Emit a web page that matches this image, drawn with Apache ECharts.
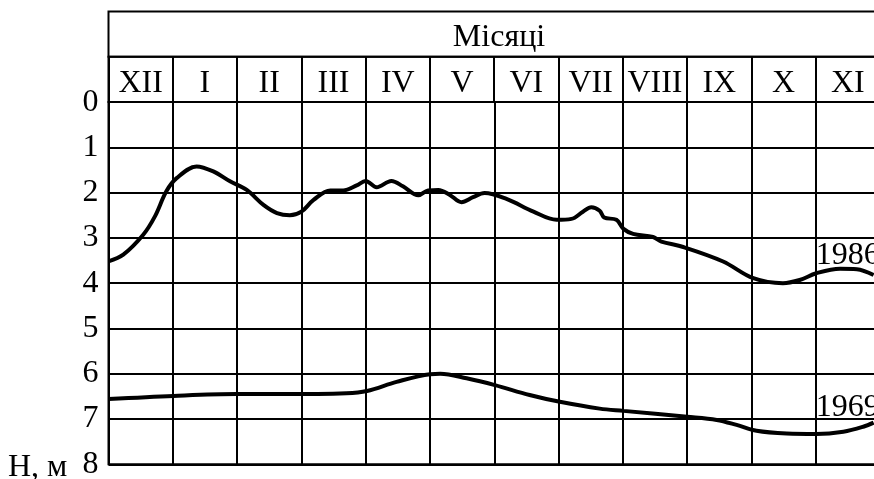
<!DOCTYPE html>
<html>
<head>
<meta charset="utf-8">
<script src="https://cdn.jsdelivr.net/npm/echarts@6/dist/echarts.min.js"></script>
<style>
  html, body { margin: 0; padding: 0; background: #fff; }
  #chart { width: 874px; height: 479px; }
</style>
</head>
<body>
<div id="chart"></div>
<script>
// Month columns, December through November
const months = ['XII', 'I', 'II', 'III', 'IV', 'V', 'VI', 'VII', 'VIII', 'IX', 'X', 'XI'];
const depthTicks = [0, 1, 2, 3, 4, 5, 6, 7, 8];

// Groundwater depth H (m); x is position in months from the start of December
const level1986 = [
  [0.00, 3.52], [0.23, 3.37], [0.54, 2.93], [0.72, 2.53], [0.90, 1.97],
  [1.06, 1.68], [1.37, 1.42], [1.63, 1.53], [1.89, 1.75], [2.15, 1.94],
  [2.41, 2.27], [2.62, 2.45], [2.82, 2.50], [3.00, 2.42], [3.19, 2.16],
  [3.45, 1.95], [3.65, 1.95], [3.86, 1.84], [4.00, 1.74], [4.17, 1.88],
  [4.40, 1.74], [4.58, 1.86], [4.82, 2.06], [4.97, 1.95], [5.13, 1.94],
  [5.31, 2.05], [5.49, 2.21], [5.67, 2.10], [5.85, 2.01], [6.19, 2.14],
  [6.61, 2.42], [6.97, 2.60], [7.20, 2.58], [7.38, 2.42], [7.51, 2.32],
  [7.64, 2.40], [7.71, 2.55], [7.90, 2.60], [8.01, 2.80], [8.16, 2.91],
  [8.47, 2.98], [8.60, 3.08], [8.94, 3.20], [9.56, 3.52], [10.03, 3.89],
  [10.49, 4.00], [10.75, 3.93], [11.01, 3.78], [11.38, 3.68], [11.64, 3.69],
  [11.90, 3.82]
];
const level1969 = [
  [0.00, 6.56], [1.01, 6.49], [1.99, 6.45], [2.67, 6.45], [3.70, 6.43],
  [4.02, 6.38], [4.48, 6.18], [5.00, 6.01], [5.16, 6.00], [5.57, 6.10],
  [6.01, 6.25], [6.55, 6.47], [7.02, 6.62], [7.64, 6.77], [8.01, 6.82],
  [9.00, 6.95], [9.46, 7.02], [9.77, 7.13], [10.08, 7.26], [10.55, 7.32],
  [11.01, 7.33], [11.43, 7.28], [11.74, 7.17], [11.90, 7.08]
];
// Where the year captions sit
const label1986 = [11.0, 3.4];
const label1969 = [11.0, 6.75];

const FONT = '"Liberation Serif", "Times New Roman", serif';
const FS = 32;
// the table runs past the right edge of the page: 12 columns of ~64.3 px
const L = 108.5, W = 771.5;

const chart = echarts.init(document.getElementById('chart'), null, { renderer: 'canvas' });

function curve(name, data, labelAt) {
  return {
    name: name,
    type: 'line',
    xAxisIndex: 2,
    yAxisIndex: 2,
    data: data,
    smooth: 0.35,
    showSymbol: false,
    silent: true,
    lineStyle: { color: '#000', width: 4 },
    markPoint: {
      symbol: 'circle',
      symbolSize: 0,
      silent: true,
      data: [{ coord: labelAt, value: name }],
      label: {
        show: true,
        position: 'right',
        distance: 0,
        formatter: name,
        color: '#000',
        fontFamily: FONT,
        fontSize: FS
      }
    }
  };
}

const gridBase = { left: L, width: W, show: true, borderColor: '#000', borderWidth: 2, outerBoundsMode: 'none', containLabel: false };

chart.setOption({
  animation: false,
  backgroundColor: '#fff',
  title: [
    {
      text: 'Місяці', left: 494, top: 17, textAlign: 'center', padding: 5,
      textStyle: { fontFamily: FONT, fontSize: FS, fontWeight: 'normal', color: '#000' }
    },
    {
      text: 'Н, м', left: 8, top: 452, padding: 0,
      textStyle: { fontFamily: FONT, fontSize: FS, fontWeight: 'normal', color: '#000' }
    }
  ],
  grid: [
    // caption row
    Object.assign({}, gridBase, { top: 11.5, height: 45.2 }),
    // month row
    Object.assign({}, gridBase, { top: 56.7, height: 45.4 }),
    // depth plot
    Object.assign({}, gridBase, { top: 102.1, height: 362.2 })
  ],
  xAxis: [
    { gridIndex: 0, type: 'value', min: 0, max: 1, show: false },
    {
      gridIndex: 1, type: 'category', data: months, boundaryGap: true, position: 'top',
      axisLine: { show: false }, axisTick: { show: false },
      splitLine: { show: true, lineStyle: { color: '#000', width: 2 } },
      axisLabel: { inside: true, margin: 11, color: '#000', fontFamily: FONT, fontSize: FS, interval: 0 }
    },
    {
      gridIndex: 2, type: 'value', min: 0, max: 12, interval: 1,
      axisLine: { show: false }, axisTick: { show: false }, axisLabel: { show: false },
      splitLine: { show: true, lineStyle: { color: '#000', width: 2 } }
    }
  ],
  yAxis: [
    { gridIndex: 0, type: 'value', min: 0, max: 1, show: false },
    { gridIndex: 1, type: 'value', min: 0, max: 1, show: false },
    {
      gridIndex: 2, type: 'value', inverse: true, min: 0, max: 8, interval: 1,
      axisLine: { show: false }, axisTick: { show: false },
      axisLabel: {
        margin: 10, color: '#000', fontFamily: FONT, fontSize: FS,
        padding: [5, 0, 0, 0],
        formatter: v => depthTicks.includes(v) ? String(v) : ''
      },
      splitLine: { show: true, lineStyle: { color: '#000', width: 2 } }
    }
  ],
  series: [
    curve('1986', level1986, label1986),
    curve('1969', level1969, label1969)
  ]
});
</script>
</body>
</html>
